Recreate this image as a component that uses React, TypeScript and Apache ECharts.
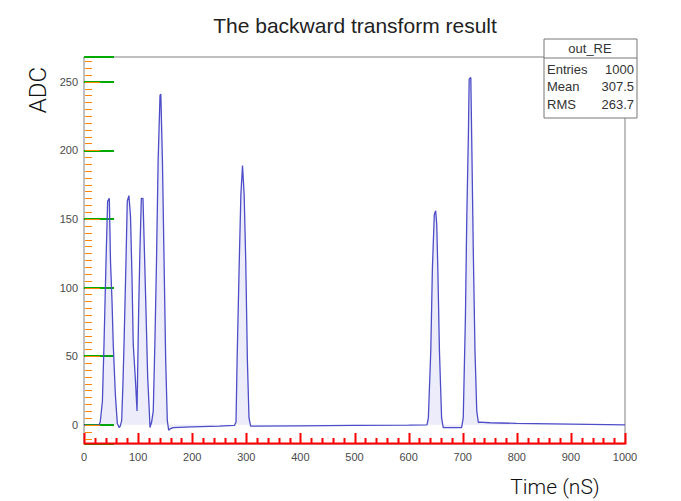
import React, { useEffect, useRef } from "react";
import * as echarts from "echarts";

// ---- data (Time in nS, ADC counts) ----
const timeNs: number[] = [
  0, 10, 20, 28,
  30, 34, 37, 40.7, 43.7, 46.8, 49, 51.8, 54, 58, 61.6, 65,
  67, 69.6, 72, 74, 77.6, 80, 83, 86, 88.7, 91, 95, 98,
  101, 103.5, 106, 109, 111.5, 114.6, 117.7, 120.7, 122, 125,
  128, 131, 134, 137, 140.5, 142, 145, 148, 151, 154, 156.5, 159, 165, 200, 250, 278,
  281, 283, 287, 290, 293, 296, 299, 302, 305, 308, 315, 400, 500, 600, 634,
  636.5, 641, 644, 647.5, 650, 652, 654, 657, 661, 664, 680, 698,
  701, 705, 707.5, 710.5, 712, 715, 717, 719.6, 722.7, 726, 729, 731, 750, 800, 900, 1000,
];
const adc: number[] = [
  -0.5, -0.5, -0.3, 0,
  2, 17, 59, 119, 163, 165, 119, 90, 59, 22, 1, -2,
  -1, 3, 30, 59, 119, 163, 167, 152, 108, 59, 33, 10,
  83, 129, 165, 165, 129, 83, 35, 10, -2, 2,
  10, 59, 119, 192, 240, 241, 192, 119, 47, 3, -4, -3, -2, -1.5, -1, -0.5,
  2, 47, 119, 168, 189, 168, 119, 47, 5, -1, -1, -0.8, -0.5, -0.3, 0,
  5, 54, 114, 153, 156, 146, 114, 54, 5, -2, -2, -2,
  5, 78, 150, 211, 252, 253, 199, 126, 54, 10, 1.5, 2, 1.5, 1, 0.5, 0,
];

const yMajorTicks: number[] = [0, 50, 100, 150, 200, 250];

const statsTitle = "out_RE";
const statsNames: string[] = ["Entries", "Mean", "RMS"];
const statsValues: string[] = ["1000", "307.5", "263.7"];

const chartTitle = "The backward transform result";
const xTitle = "Time (nS)";
const yTitle = "ADC";

const xMin = 0;
const xMax = 1000;
const yMin = -14;
const yMax = 268;

export default function App() {
  const ref = useRef<HTMLDivElement>(null);

  useEffect(() => {
    if (!ref.current) return;
    const chart = echarts.init(ref.current, undefined, { renderer: "svg" });

    const points = timeNs.map((t, i) => [t, adc[i]]);

    const font = "Liberation Sans, Arial, Helvetica, sans-serif";
    const lightFont = "Roboto, Liberation Sans, sans-serif";
    const frame = "#808080";
    const labelColor = "#4a4a4a";

    const W = 681;
    const H = 501;
    const grid = { left: 84, right: 56, top: 57, bottom: 57 };
    const gx0 = grid.left;
    const gx1 = W - grid.right;
    const gy0 = grid.top;
    const gy1 = H - grid.bottom;
    const sx = (v: number) => gx0 + ((v - xMin) / (xMax - xMin)) * (gx1 - gx0);
    const sy = (v: number) => gy1 - ((v - yMin) / (yMax - yMin)) * (gy1 - gy0);

    const xComb: number[][] = [[gx0, gy1 - 0.5]];
    for (let v = 0; v <= 1000; v += 20) {
      const len = v % 100 === 0 ? 11 : 6;
      const X = Math.round(sx(v)) + 0.5;
      xComb.push([X, gy1 - 0.5], [X, gy1 - len], [X, gy1 - 0.5]);
    }
    xComb.push([gx1, gy1 - 0.5]);

    const yRects: any[] = [];
    for (let v = -10; v <= 265; v += 5) {
      const len = v % 50 === 0 ? 16 : 8;
      yRects.push({
        type: "rect",
        z: 20,
        shape: { x: gx0 + 1, y: Math.round(sy(v)), width: len - 1, height: 1 },
        style: { fill: "#ff8800" },
      });
    }

    const statsTexts: any[] = [];
    statsNames.forEach((n, i) => {
      statsTexts.push({
        type: "text",
        x: 547,
        y: 69 + i * 17.5,
        z: 11,
        style: { text: n, fontSize: 13, fontFamily: font, fill: "#333", textVerticalAlign: "middle" },
      });
      statsTexts.push({
        type: "text",
        x: 634,
        y: 69 + i * 17.5,
        z: 11,
        style: { text: statsValues[i], fontSize: 13, fontFamily: font, fill: "#333", textAlign: "right", textVerticalAlign: "middle" },
      });
    });

    chart.setOption({
      animation: false,
      backgroundColor: "#ffffff",
      grid: {
        ...grid,
        show: true,
        borderColor: frame,
        borderWidth: 1,
        backgroundColor: "transparent",
      },
      xAxis: {
        type: "value",
        min: xMin,
        max: xMax,
        interval: 100,
        axisLine: { show: false, onZero: false },
        splitLine: { show: false },
        axisTick: { show: false },
        minorTick: { show: false },
        axisLabel: {
          color: labelColor,
          fontSize: 11,
          fontFamily: font,
          margin: 7,
          formatter: (v: number) => String(v),
        },
      },
      yAxis: {
        type: "value",
        min: yMin,
        max: yMax,
        axisLine: { show: false, onZero: false },
        splitLine: { show: false },
        axisTick: { show: true, inside: true, length: 30, lineStyle: { color: "#00aa00", width: 2 } },
        axisLabel: { customValues: yMajorTicks, color: labelColor, fontSize: 11, fontFamily: font, margin: 6 },
      },
      series: [
        {
          type: "line",
          data: points,
          showSymbol: false,
          symbol: "none",
          lineStyle: { color: "#4d4dc8", width: 1.3 },
          itemStyle: { color: "#4d4dc8" },
          areaStyle: { color: "rgba(90,90,210,0.16)" },
          z: 2,
        },
      ],
      graphic: [
        {
          type: "polyline",
          z: 20,
          shape: { points: xComb },
          style: { stroke: "#ff0000", lineWidth: 2, fill: null },
        },
        ...yRects,
        {
          type: "text",
          x: 355,
          y: 25,
          style: { text: chartTitle, fontSize: 21, fontFamily: font, fill: "#222", textAlign: "center", textVerticalAlign: "middle" },
        },
        {
          type: "text",
          x: 38,
          y: 90,
          rotation: Math.PI / 2,
          style: { text: yTitle, fontSize: 24, fontFamily: lightFont, fontWeight: 300, fill: "#111", textAlign: "center", textVerticalAlign: "middle" },
        },
        {
          type: "text",
          x: 555,
          y: 487,
          style: { text: xTitle, fontSize: 21, fontFamily: lightFont, fontWeight: 300, fill: "#111", textAlign: "center", textVerticalAlign: "middle" },
        },
        {
          type: "rect",
          shape: { x: 544, y: 39, width: 93, height: 79 },
          style: { fill: "#ffffff", stroke: "#777", lineWidth: 1 },
          z: 10,
        },
        {
          type: "line",
          shape: { x1: 544, y1: 58, x2: 637, y2: 58 },
          style: { stroke: "#777", lineWidth: 1 },
          z: 11,
        },
        {
          type: "text",
          x: 590,
          y: 48,
          z: 11,
          style: { text: statsTitle, fontSize: 13, fontFamily: font, fill: "#333", textAlign: "center", textVerticalAlign: "middle" },
        },
        ...statsTexts,
      ],
    });

    return () => chart.dispose();
  }, []);

  return (
    <div
      ref={ref}
      style={{ position: "fixed", left: 0, top: 0, width: 681, height: 501 }}
    />
  );
}
